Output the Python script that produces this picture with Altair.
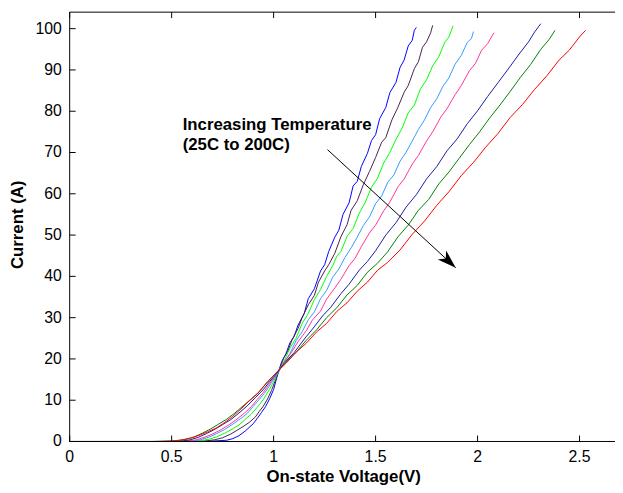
import math
import altair as alt
import pandas as pd

FONT = "Liberation Sans"

# ---------------- data ----------------
series_names = ["25C", "50C", "75C", "100C", "125C", "150C", "175C", "200C"]
series_colors = ["#0000FF", "#4B1E4B", "#00FF00", "#3399FF", "#FF3399", "#1A1AA0", "#008000", "#FF0000"]

v_25 = [0, 0.60, 0.70, 0.77, 0.80, 0.83, 0.86, 0.88, 0.90, 0.92, 0.94, 0.96, 0.98, 1.00, 1.02, 1.04, 1.06,
        1.08, 1.10, 1.12, 1.15, 1.17, 1.20, 1.23, 1.25, 1.27, 1.30, 1.32, 1.34, 1.37, 1.39, 1.41, 1.43, 1.46,
        1.48, 1.50, 1.52, 1.55, 1.57, 1.60, 1.62, 1.64, 1.66, 1.68, 1.69, 1.70]
i_25 = [0, 0, 0.1, 0.3, 0.7, 1.4, 2.5, 3.4, 4.3, 5.6, 7.0, 8.4, 10.3, 12.6, 16.3, 19.4, 21.2,
        23.9, 25.4, 28.2, 31.0, 34.6, 37.0, 41.3, 42.8, 46.0, 49.5, 51.2, 55.0, 57.8, 61.9, 63.0, 66.6, 69.8,
        72.9, 74.3, 78.2, 80.9, 84.5, 87.0, 90.6, 92.4, 95.8, 97.2, 99.6, 100.3]

v_50 = [0, 0.55, 0.66, 0.71, 0.75, 0.79, 0.82, 0.85, 0.88, 0.91, 0.93, 0.95, 0.97, 0.99, 1.01, 1.03, 1.05,
        1.07, 1.09, 1.12, 1.14, 1.17, 1.20, 1.22, 1.25, 1.27, 1.30, 1.33, 1.36, 1.38, 1.41, 1.44, 1.47, 1.50,
        1.53, 1.55, 1.58, 1.61, 1.64, 1.66, 1.69, 1.71, 1.73, 1.75, 1.77, 1.78]
i_50 = [0, 0, 0.1, 0.4, 0.9, 1.8, 2.7, 3.6, 4.6, 5.9, 7.3, 8.6, 10.3, 12.4, 15.0, 17.6, 20.3,
        21.9, 24.6, 27.4, 30.0, 33.1, 35.4, 38.6, 41.3, 42.8, 45.6, 49.6, 52.5, 56.0, 58.3, 62.2, 65.4, 68.8,
        72.5, 73.6, 77.9, 81.0, 84.6, 86.2, 90.3, 92.0, 95.5, 96.8, 99.0, 100.8]

v_75 = [0, 0.52, 0.63, 0.68, 0.72, 0.76, 0.80, 0.83, 0.86, 0.89, 0.92, 0.95, 0.98, 1.00, 1.02, 1.05, 1.08,
        1.11, 1.14, 1.17, 1.20, 1.23, 1.26, 1.29, 1.31, 1.33, 1.36, 1.39, 1.42, 1.45, 1.48, 1.51, 1.54, 1.57,
        1.60, 1.63, 1.66, 1.69, 1.72, 1.75, 1.78, 1.81, 1.84, 1.86, 1.88]
i_75 = [0, 0, 0.1, 0.5, 1.1, 2.0, 3.1, 4.0, 5.3, 6.6, 8.3, 10.2, 12.6, 14.5, 16.6, 19.3, 22.6,
        25.0, 28.6, 31.0, 34.4, 36.8, 40.0, 42.6, 44.9, 46.0, 49.7, 51.6, 55.3, 58.0, 61.6, 63.8, 67.5, 70.0,
        73.2, 75.9, 79.6, 81.5, 85.4, 87.6, 91.0, 93.2, 96.8, 98.0, 100.7]

v_100 = [0, 0.50, 0.60, 0.64, 0.68, 0.72, 0.76, 0.80, 0.84, 0.87, 0.90, 0.93, 0.96, 0.99, 1.02, 1.05, 1.08,
         1.11, 1.14, 1.17, 1.20, 1.23, 1.26, 1.29, 1.32, 1.35, 1.38, 1.41, 1.44, 1.47, 1.50, 1.53, 1.56, 1.59,
         1.62, 1.65, 1.68, 1.71, 1.74, 1.77, 1.80, 1.83, 1.86, 1.89, 1.92, 1.95, 1.97, 1.98]
i_100 = [0, 0, 0.1, 0.4, 1.0, 1.9, 2.9, 4.2, 5.6, 6.8, 8.5, 10.2, 12.0, 14.3, 16.5, 19.1, 21.3,
         24.4, 26.6, 29.5, 31.4, 34.6, 36.6, 39.8, 41.8, 44.6, 46.9, 49.5, 52.3, 54.4, 57.6, 59.5, 62.8, 64.6,
         67.9, 70.1, 72.8, 75.6, 77.9, 80.9, 83.0, 86.0, 88.1, 91.4, 93.5, 96.7, 97.6, 99.3]

v_125 = [0, 0.50, 0.58, 0.62, 0.66, 0.70, 0.74, 0.78, 0.82, 0.86, 0.89, 0.92, 0.95, 0.98, 1.015, 1.05, 1.09,
         1.12, 1.16, 1.19, 1.23, 1.26, 1.30, 1.33, 1.37, 1.40, 1.43, 1.47, 1.50, 1.54, 1.57, 1.61, 1.64, 1.68,
         1.71, 1.75, 1.78, 1.82, 1.85, 1.89, 1.92, 1.96, 1.99, 2.02, 2.05, 2.08]
i_125 = [0, 0, 0.1, 0.4, 1.0, 1.8, 2.8, 4.0, 5.4, 7.0, 8.4, 10.2, 11.9, 14.0, 16.5, 19.0, 21.8,
         24.2, 26.8, 29.4, 31.6, 34.5, 37.2, 39.3, 42.6, 44.4, 47.2, 50.5, 52.4, 55.9, 58.0, 61.7, 63.6, 67.2,
         69.3, 72.8, 75.0, 78.6, 80.6, 84.0, 86.2, 89.8, 91.6, 94.8, 96.4, 99.0]

v_150 = [0, 0.45, 0.55, 0.59, 0.63, 0.67, 0.71, 0.75, 0.79, 0.83, 0.87, 0.91, 0.95, 0.98, 1.015, 1.06, 1.10,
         1.15, 1.19, 1.24, 1.28, 1.33, 1.37, 1.42, 1.46, 1.50, 1.55, 1.60, 1.65, 1.70, 1.75, 1.80, 1.85, 1.90,
         1.95, 2.00, 2.05, 2.10, 2.15, 2.20, 2.25, 2.28, 2.31]
i_150 = [0, 0, 0.1, 0.4, 1.0, 1.9, 2.9, 4.1, 5.3, 6.9, 8.6, 10.6, 12.6, 14.5, 16.5, 19.4, 21.5,
         24.8, 27.2, 30.4, 32.5, 35.8, 38.1, 41.5, 43.6, 46.2, 50.0, 53.0, 56.8, 59.8, 63.6, 66.6, 70.4, 73.3,
         77.0, 80.1, 83.6, 86.9, 90.2, 93.6, 96.8, 99.2, 101.2]

v_175 = [0, 0.42, 0.52, 0.57, 0.61, 0.65, 0.69, 0.73, 0.77, 0.81, 0.85, 0.89, 0.93, 0.97, 1.01, 1.06, 1.11,
         1.16, 1.21, 1.26, 1.31, 1.36, 1.41, 1.46, 1.51, 1.56, 1.61, 1.66, 1.71, 1.76, 1.81, 1.86, 1.91, 1.96,
         2.01, 2.06, 2.11, 2.16, 2.21, 2.26, 2.31, 2.35, 2.38]
i_175 = [0, 0, 0.1, 0.5, 1.1, 2.0, 3.0, 4.2, 5.4, 6.9, 8.6, 10.3, 12.1, 14.4, 16.5, 19.2, 21.6,
         24.5, 27.0, 30.0, 32.4, 35.5, 37.8, 41.0, 43.2, 46.0, 49.6, 52.4, 56.0, 58.6, 62.4, 65.3, 68.6, 71.9,
         75.0, 78.4, 81.5, 84.8, 88.2, 91.3, 95.0, 97.3, 99.6]

v_200 = [0, 0.40, 0.50, 0.55, 0.60, 0.64, 0.68, 0.72, 0.76, 0.80, 0.84, 0.88, 0.92, 0.96, 1.01, 1.06, 1.11,
         1.16, 1.21, 1.26, 1.31, 1.36, 1.41, 1.46, 1.51, 1.56, 1.62, 1.68, 1.74, 1.80, 1.86, 1.92, 1.98, 2.04,
         2.10, 2.16, 2.22, 2.28, 2.34, 2.40, 2.45, 2.50, 2.53]
i_200 = [0, 0, 0.1, 0.4, 0.9, 1.6, 2.4, 3.3, 4.6, 6.1, 7.9, 9.8, 11.5, 13.9, 16.5, 18.9, 21.6,
         23.8, 26.5, 28.6, 31.5, 33.6, 36.4, 38.6, 41.5, 43.4, 46.4, 50.2, 53.4, 57.2, 60.5, 64.4, 67.6, 71.3,
         74.6, 78.5, 81.6, 85.3, 88.6, 92.4, 94.8, 98.0, 99.6]

x_ticks = [0, 0.5, 1, 1.5, 2, 2.5]
x_tick_labels = ["0", "0.5", "1", "1.5", "2", "2.5"]
y_ticks = [0, 10, 20, 30, 40, 50, 60, 70, 80, 90, 100]
y_tick_labels = ["0", "10", "20", "30", "40", "50", "60", "70", "80", "90", "100"]
x_domain = [0, 2.674]
y_domain = [0, 104]

annotation_lines = ["Increasing Temperature", "(25C to 200C)"]
annotation_x = [0.554, 0.554]
annotation_y = [76.6, 71.8]
arrow_from = (1.264, 70.7)
arrow_to = (1.893, 42.1)

x_title = "On-state Voltage(V)"
y_title = "Current (A)"

# ---------------- layout ----------------
W, H = 552.5, 435
TICK = 6

curves = [v_25, v_50, v_75, v_100, v_125, v_150, v_175, v_200]
currents = [i_25, i_50, i_75, i_100, i_125, i_150, i_175, i_200]
rows = []
for name, vs, cs in zip(series_names, curves, currents):
    for k, (v, c) in enumerate(zip(vs, cs)):
        rows.append({"series": name, "V": v, "I": c, "idx": k})
df = pd.DataFrame(rows)

xs = alt.Scale(domain=x_domain, nice=False, zero=False)
ys = alt.Scale(domain=y_domain, nice=False, zero=False)

X = lambda f: alt.X(f, type="quantitative", scale=xs, axis=None)
Y = lambda f: alt.Y(f, type="quantitative", scale=ys, axis=None)

lines = alt.Chart(df).mark_line(strokeWidth=1, interpolate="linear").encode(
    x=X("V"), y=Y("I"),
    color=alt.Color("series:N", scale=alt.Scale(domain=series_names, range=series_colors), legend=None),
    order=alt.Order("idx:Q"),
)

one = alt.Chart(pd.DataFrame({"k": [0]}))
frame_left = one.mark_rule(color="black", strokeWidth=1).encode(
    x=alt.value(0), y=alt.value(0), y2=alt.value(H))
frame_top = one.mark_rule(color="black", strokeWidth=1).encode(
    y=alt.value(0), x=alt.value(0), x2=alt.value(W))
frame_bottom = one.mark_rule(color="black", strokeWidth=1).encode(
    y=alt.value(H), x=alt.value(0), x2=alt.value(W))

xt = alt.Chart(pd.DataFrame({"v": x_ticks, "t": x_tick_labels}))
yt = alt.Chart(pd.DataFrame({"v": y_ticks, "t": y_tick_labels}))

# inward tick marks
tick_bottom = xt.mark_rule(color="black", strokeWidth=1).encode(x=X("v"), y=alt.value(H), y2=alt.value(H - TICK))
tick_top = xt.mark_rule(color="black", strokeWidth=1).encode(x=X("v"), y=alt.value(0), y2=alt.value(TICK))
tick_left = yt.mark_tick(orient="horizontal", size=TICK, thickness=1, color="black", opacity=1).encode(
    y=Y("v"), x=alt.value(TICK / 2))

# tick labels and axis titles
x_labels = xt.mark_text(font=FONT, fontSize=16, color="black", align="center", baseline="top").encode(
    x=X("v"), y=alt.value(H + 8), text="t:N")
y_labels = yt.mark_text(font=FONT, fontSize=16, color="black", align="right", baseline="middle").encode(
    y=Y("v"), x=alt.value(-8), text="t:N")

title_x = alt.Chart(pd.DataFrame({"t": [x_title]})).mark_text(
    font=FONT, fontSize=17, fontWeight="bold", color="black", align="center", baseline="top").encode(
    x=alt.value(277.5), y=alt.value(H + 28), text="t:N")
title_y = alt.Chart(pd.DataFrame({"t": [y_title]})).mark_text(
    font=FONT, fontSize=17, fontWeight="bold", color="black", align="center", baseline="bottom", angle=270).encode(
    x=alt.value(-43), y=alt.value(H / 2 - 2), text="t:N")

arrow_df = pd.DataFrame({"x": [arrow_from[0]], "y": [arrow_from[1]], "x2": [arrow_to[0]], "y2": [arrow_to[1]]})
arrow_line = alt.Chart(arrow_df).mark_rule(color="black", strokeWidth=1).encode(
    x=X("x"), y=Y("y"), x2="x2:Q", y2="y2:Q")

px_dx = (arrow_to[0] - arrow_from[0]) * W / (x_domain[1] - x_domain[0])
px_dy = (arrow_from[1] - arrow_to[1]) * H / (y_domain[1] - y_domain[0])
head_angle = math.degrees(math.atan2(px_dy, px_dx))

head_df = pd.DataFrame({"x": [arrow_to[0]], "y": [arrow_to[1]]})
arrow_head = alt.Chart(head_df).mark_point(
    shape="M0,0 L-1,-0.33 L-0.72,0 L-1,0.33 Z", filled=True, color="black", opacity=1,
    size=1444, angle=head_angle, strokeWidth=0,
).encode(x=X("x"), y=Y("y"))

text_df = pd.DataFrame({"t": annotation_lines, "x": annotation_x, "y": annotation_y})
text_layer = alt.Chart(text_df).mark_text(
    align="left", baseline="middle", font=FONT, fontSize=17, fontWeight="bold", color="black",
).encode(x=X("x"), y=Y("y"), text="t:N")

chart = alt.layer(
    lines, frame_left, frame_top, frame_bottom, tick_bottom, tick_top, tick_left,
    x_labels, y_labels, title_x, title_y, arrow_line, arrow_head, text_layer
).properties(
    width=W, height=H,
    autosize=alt.AutoSizeParams(type="none"),
    padding={"left": 62.5, "top": 1, "right": 0, "bottom": 50},
    background="white",
).configure_view(strokeWidth=0)

chart.save("out.html", embed_options={"renderer": "svg", "actions": False})
